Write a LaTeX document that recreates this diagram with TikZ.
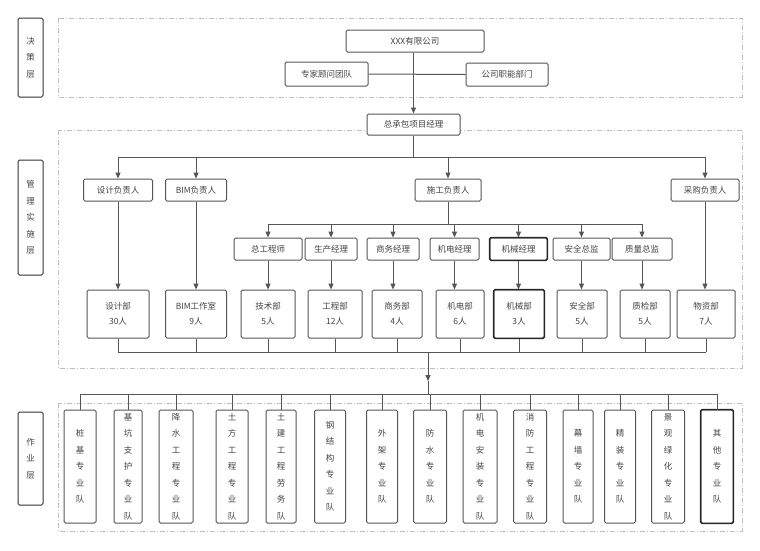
\documentclass[tikz,border=0pt]{standalone}
\usepackage{fontspec}
\setmainfont{Noto Sans CJK SC}
\usetikzlibrary{arrows.meta}
\definecolor{ln}{HTML}{555555}
\definecolor{tx}{HTML}{444444}
\begin{document}
\begin{tikzpicture}[x=1pt,y=-1pt,
  box/.style={draw=ln,line width=1pt,rounded corners=1.5pt,fill=white,text=tx,font=\fontsize{8.5}{11}\selectfont,inner sep=0pt,align=center},
  dk/.style={draw=black!85,line width=1.3pt,rounded corners=1.5pt},
  vbox/.style={box,minimum height=113pt,font=\fontsize{8.5}{16.5}\selectfont},
  region/.style={draw=black!25,dash pattern=on 5pt off 2pt on 1pt off 2pt,line width=0.6pt},
  lab/.style={draw=black!80,line width=1pt,rounded corners=1.5pt,text=tx,font=\fontsize{8.5}{16.5}\selectfont,align=center,minimum width=25pt,inner sep=0pt},
  wire/.style={draw=ln,line width=1pt},
  arr/.style={wire,-{Triangle[length=6pt,width=5pt]}}]
\useasboundingbox (0,0) rectangle (760,550);
% regions
\draw[region] (58,18) rectangle (742,97);
\draw[region] (58,130) rectangle (742,368);
\draw[region] (58,403) rectangle (742,531);
\node[lab,minimum height=79pt] (L1) at (30.5,57.5) {决\\策\\层};
\node[lab,minimum height=115pt] (L2) at (30.5,217.5) {管\\理\\实\\施\\层};
\node[lab,minimum height=93pt] (L3) at (30.5,458.5) {作\\业\\层};
% top
\node[box,minimum width=138pt,minimum height=22pt] (co) at (415,41) {XXX有限公司};
\node[box,minimum width=83pt,minimum height=24pt] (zj) at (326.5,74) {专家顾问团队};
\node[box,minimum width=82pt,minimum height=23pt] (gs) at (507,74.5) {公司职能部门};
\node[box,minimum width=93pt,minimum height=21pt] (pm) at (413.5,124.5) {总承包项目经理};
\draw[wire] (zj.east) -- (gs.west);
\draw[arr] (co.south -| pm.north) -- (pm.north);
% leaders
\node[box,minimum width=69pt,minimum height=22pt] (sj) at (118,190) {设计负责人};
\node[box,minimum width=61pt,minimum height=22pt] (bim) at (196,190) {BIM负责人};
\node[box,minimum width=66pt,minimum height=22pt] (sg) at (448,190) {施工负责人};
\node[box,minimum width=68pt,minimum height=22pt] (cg) at (705,190) {采购负责人};
\coordinate (b1) at (413.5,157);
\draw[wire] (pm.south) -- (b1);
\draw[wire] (118,157) -- (705,157);
\foreach \n in {sj,bim,sg,cg} \draw[arr] (\n.north |- b1) -- (\n.north);
% managers
\foreach \n/\x/\w/\t in {zg/268/68/总工程师,sc/331/52/生产经理,sw/393/52/商务经理,jd/454.5/49/机电经理,jx/518.5/57/机械经理,aq/581.5/57/安全总监,zl/642/60/质量总监}
  \node[box,minimum width=\w pt,minimum height=22pt] (\n) at (\x,249) {\t};
\draw[dk] (jx.south west) rectangle (jx.north east);
\coordinate (b2) at (448,224);
\draw[wire] (sg.south) -- (b2);
\draw[wire] (zg.north |- b2) -- (zl.north |- b2);
\foreach \n in {zg,sc,sw,jd,jx,aq,zl} \draw[arr] (\n.north |- b2) -- (\n.north);
% departments
\foreach \n/\x/\w/\t in {d1/118/62/设计部\\30人,d2/196/61/BIM工作室\\9人,d3/268/54/技术部\\5人,d4/335/54/工程部\\12人,d5/397/50/商务部\\4人,d6/460/48/机电部\\6人,d7/519/50/机械部\\3人,d8/582/50/安全部\\5人,d9/645/50/质检部\\5人,d10/706/58/物资部\\7人}
  \node[box,minimum width=\w pt,minimum height=48pt,font=\fontsize{8.5}{15}\selectfont] (\n) at (\x,314) {\t};
\draw[dk] (d7.south west) rectangle (d7.north east);
\foreach \a/\b in {sj/d1,bim/d2,zg/d3,sc/d4,sw/d5,jd/d6,jx/d7,aq/d8,zl/d9,cg/d10} \draw[arr] (\a.south) -- (\b.north -| \a.south);
\coordinate (b3) at (428,352);
\draw[wire] (d1.south |- b3) -- (d10.south |- b3);
\foreach \n in {d1,d2,d3,d4,d5,d6,d7,d8,d9,d10} \draw[wire] (\n.south) -- (\n.south |- b3);
% teams
\coordinate (b4) at (428,394);
\coordinate (b5) at (428,381);
\draw[arr] (b3) -- (b5);
\draw[wire] (b5) -- (b4);
\foreach \n/\x/\w/\t in {t1/80/32/桩\\基\\专\\业\\队,t2/128/28/基\\坑\\支\\护\\专\\业\\队,t3/176/34/降\\水\\工\\程\\专\\业\\队,t4/232/32/土\\方\\工\\程\\专\\业\\队,t5/281/30/土\\建\\工\\程\\劳\\务\\队,t6/330/31/钢\\结\\构\\专\\业\\队,t7/382/31/外\\架\\专\\业\\队,t8/430/33/防\\水\\专\\业\\队,t9/480/34/机\\电\\安\\装\\专\\业\\队,t10/530/33/消\\防\\工\\程\\专\\业\\队,t11/578/30/幕\\墙\\专\\业\\队,t12/620/31/精\\装\\专\\业\\队,t13/668/33/景\\观\\绿\\化\\专\\业\\队,t14/717/32/其\\他\\专\\业\\队}
  \node[vbox,minimum width=\w pt] (\n) at (\x,466.5) {\t};
\draw[dk] (t14.south west) rectangle (t14.north east);
\draw[wire] (t1.north |- b4) -- (t14.north |- b4);
\foreach \n in {t1,t2,t3,t4,t5,t6,t7,t8,t9,t10,t11,t12,t13,t14} \draw[wire] (\n.north |- b4) -- (\n.north);
\end{tikzpicture}
\end{document}
